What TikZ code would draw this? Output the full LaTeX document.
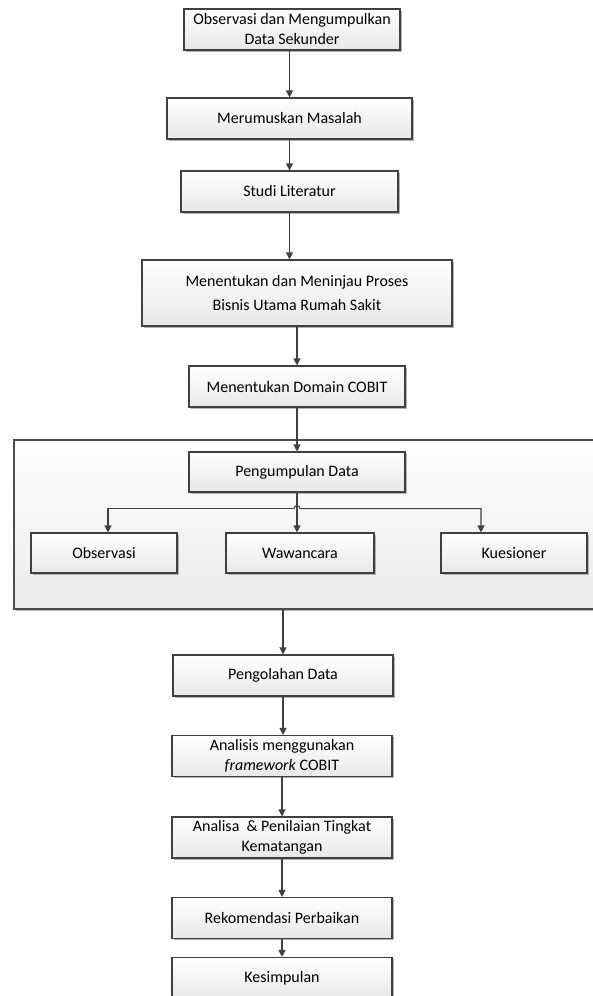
\documentclass[tikz,border=0pt]{standalone}
\usepackage{fontspec}
\setmainfont{Carlito}
\usetikzlibrary{positioning,arrows.meta,shadows}

\begin{document}
\begin{tikzpicture}[node distance=10mm,on grid,>={Triangle[length=7pt,width=7pt]},
		box/.style={rectangle,draw=black!75,line width=1.1pt,top color=white,bottom color=black!9,
			general shadow={fill=black!30,shadow xshift=1.6pt,shadow yshift=-1.6pt},
			minimum height=41pt,inner sep=2pt,align=center,font=\fontsize{16}{20}\selectfont},
		grp/.style={rectangle,draw=black!70,line width=1.1pt,top color=white,bottom color=black!8,
			general shadow={fill=black!30,shadow xshift=1.6pt,shadow yshift=-1.6pt},inner sep=0pt},
		conn/.style={draw=black!75,line width=1.1pt}]
		\useasboundingbox (0,0) rectangle (592pt,-996pt);
		% kotak pengumpulan data
		\node[grp,minimum width=586pt,minimum height=169pt] (grp) at (307pt,-524.5pt) {};
		
		\node[box,minimum width=216pt] (obsdata)  at (292pt,-29.5pt) {Observasi dan Mengumpulkan\\Data Sekunder};
		\node[box,minimum width=245pt] (rumus)    [below=89pt of obsdata,xshift=-2.5pt] {Merumuskan Masalah};
		\node[box,minimum width=217pt] (studi)    [below=73pt of rumus] {Studi Literatur};
		\node[box,minimum width=310pt,minimum height=66pt] (bisnis) [below=101.5pt of studi,xshift=7.5pt] {Menentukan dan Meninjau Proses\\[4pt]Bisnis Utama Rumah Sakit};
		\node[box,minimum width=216pt] (domain)   [below=93.5pt of bisnis] {Menentukan Domain COBIT};
		\node[box,minimum width=216pt,minimum height=40pt] (kumpul) [below=85.5pt of domain] {Pengumpulan Data};
		\node[box,minimum width=148pt,minimum height=40pt] (waw)    [below=81pt of kumpul,xshift=3pt] {Wawancara};
		\node[box,minimum width=146pt,minimum height=40pt] (obs)    [left=196pt of waw] {Observasi};
		\node[box,minimum width=146pt,minimum height=40pt] (kues)   [right=214pt of waw] {Kuesioner};
		\node[box,minimum width=220pt] (olah)     [below=203.5pt of kumpul,xshift=-14pt] {Pengolahan Data};
		\node[box,minimum width=220pt] (analisis) [below=80.5pt of olah,xshift=-1pt] {Analisis menggunakan\\\textit{framework} COBIT};
		\node[box,minimum width=220pt] (nilai)    [below=81.5pt of analisis] {Analisa \ \& Penilaian Tingkat\\Kematangan};
		\node[box,minimum width=220pt] (rekom)    [below=80.5pt of nilai] {Rekomendasi Perbaikan};
		\node[box,minimum width=220pt] (simpul)   [below=60pt of rekom] {Kesimpulan};
		
		\coordinate (split) at ([yshift=-16pt]kumpul.south);
		
		\draw[conn,->] (obsdata.south -| rumus) -- (rumus.north);
		\draw[conn,->] (rumus) -- (studi);
		\draw[conn,->] (studi.south) -- (studi.south |- bisnis.north);
		\draw[conn,->] (bisnis) -- (domain);
		\draw[conn,->] (domain) -- (kumpul);
		\draw[conn,->] (kumpul.south) -- (kumpul.south |- waw.north);
		\draw[conn,->] ([xshift=-3pt]split) -| ([xshift=4pt]obs.north);
		\draw[conn,->] ([xshift=-3pt]split) arc[start angle=180,end angle=0,radius=3pt] -| ([xshift=-33pt]kues.north);
		\draw[conn,->] (grp.south -| olah) -- (olah.north);
		\draw[conn,->] (olah.south) -- (olah.south |- analisis.north);
		\draw[conn,->] (analisis) -- (nilai);
		\draw[conn,->] (nilai) -- (rekom);
		\draw[conn,->] (rekom) -- (simpul);
		
\end{tikzpicture}
\end{document}
